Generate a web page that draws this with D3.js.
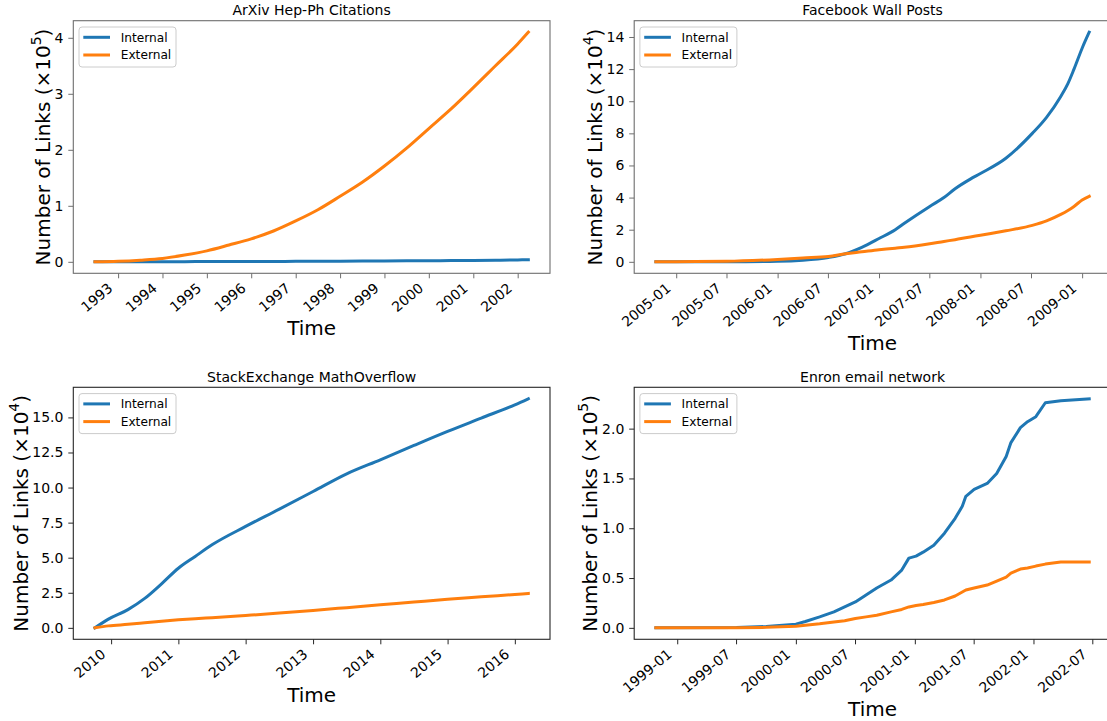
<!DOCTYPE html>
<html><head><meta charset="utf-8">
<script src="https://cdn.jsdelivr.net/npm/d3@7"></script>
<style>
body{margin:0;background:#fff;}
svg{display:block;font-family:"DejaVu Sans",sans-serif;}
</style>
</head><body>
<svg id="chart" width="1107" height="721"></svg>
<script>
// ---------------- DATA ----------------
const seriesNames = ["Internal", "External"];
const seriesColors = ["#1f77b4", "#ff7f0e"];
const xAxisLabel = "Time";
const yAxisLabel = "Number of Links (\u00d710";

// ArXiv Hep-Ph Citations (x 10^5)
const arxivTitle = "ArXiv Hep-Ph Citations";
const arxivExponent = "5";
const arxivTime = [1992.48, 1993.0, 1993.5, 1994.0, 1994.5, 1995.0, 1995.5, 1996.0, 1996.5, 1997.0, 1997.5,
                   1998.0, 1998.5, 1999.0, 1999.5, 2000.0, 2000.5, 2001.0, 2001.5, 2002.0, 2002.24];
const arxivInternal = [0, 0, 0.001, 0.002, 0.003, 0.004, 0.005, 0.006, 0.007, 0.008, 0.009,
                       0.011, 0.013, 0.015, 0.017, 0.019, 0.022, 0.025, 0.029, 0.034, 0.038];
const arxivExternal = [0, 0.01, 0.03, 0.06, 0.12, 0.196, 0.3, 0.41, 0.55, 0.73, 0.93,
                       1.17, 1.42, 1.71, 2.03, 2.38, 2.73, 3.11, 3.5, 3.89, 4.1];
const arxivXTicks = ["1993","1994","1995","1996","1997","1998","1999","2000","2001","2002"];
const arxivYTicks = [0, 1, 2, 3, 4];

// Facebook Wall Posts (x 10^4)
const fbTitle = "Facebook Wall Posts";
const fbExponent = "4";
const fbTime = [2004.80, 2005.0, 2005.5, 2006.0, 2006.25, 2006.5, 2006.67, 2006.83, 2007.0, 2007.16, 2007.25,
                2007.5, 2007.64, 2007.75, 2007.9, 2008.0, 2008.25, 2008.51, 2008.65, 2008.79, 2008.86,
                2008.92, 2009.0, 2009.07];
const fbInternal = [0, 0, 0, 0.03, 0.1, 0.27, 0.5, 0.9, 1.45, 2.0, 2.4,
                    3.45, 4.0, 4.55, 5.15, 5.5, 6.45, 8.0, 9.0, 10.3, 11.1,
                    12.0, 13.3, 14.3];
const fbExternal = [0, 0.01, 0.03, 0.15, 0.24, 0.33, 0.5, 0.62, 0.75, 0.85, 0.9,
                    1.12, 1.27, 1.38, 1.55, 1.65, 1.93, 2.27, 2.55, 2.95, 3.2,
                    3.45, 3.85, 4.08];
const fbXTicks = ["2005-01","2005-07","2006-01","2006-07","2007-01","2007-07","2008-01","2008-07","2009-01"];
const fbYTicks = [0, 2, 4, 6, 8, 10, 12, 14];

// StackExchange MathOverflow (x 10^4)
const moTitle = "StackExchange MathOverflow";
const moExponent = "4";
const moTime = [2009.76, 2009.96, 2010.25, 2010.5, 2010.75, 2011.0, 2011.25, 2011.5, 2012.0, 2012.5,
                2013.0, 2013.5, 2014.0, 2014.5, 2015.0, 2015.5, 2016.0, 2016.2];
const moInternal = [0, 0.62, 1.3, 2.1, 3.14, 4.25, 5.09, 5.92, 7.23, 8.46,
                    9.72, 10.98, 11.98, 13.0, 14.0, 14.95, 15.9, 16.33];
const moExternal = [0, 0.14, 0.25, 0.36, 0.47, 0.57, 0.65, 0.72, 0.88, 1.05,
                    1.24, 1.44, 1.64, 1.84, 2.04, 2.21, 2.38, 2.45];
const moXTicks = ["2010","2011","2012","2013","2014","2015","2016"];
const moYTicks = [0, 2.5, 5, 7.5, 10, 12.5, 15];

// Enron email network (x 10^5)
const enronTitle = "Enron email network";
const enronExponent = "5";
const enronTime = [1998.82, 1999.5, 1999.75, 2000.0, 2000.08, 2000.2, 2000.32, 2000.41, 2000.5, 2000.59,
                   2000.68, 2000.8, 2000.89, 2000.95, 2001.01, 2001.07, 2001.16, 2001.25, 2001.34, 2001.4,
                   2001.43, 2001.5, 2001.61, 2001.69, 2001.77, 2001.81, 2001.89, 2001.95, 2002.02, 2002.1,
                   2002.23, 2002.47];
const enronInternal = [0, 0.003, 0.013, 0.037, 0.064, 0.11, 0.16, 0.21, 0.26, 0.33,
                       0.40, 0.48, 0.58, 0.70, 0.72, 0.76, 0.83, 0.95, 1.10, 1.22,
                       1.32, 1.39, 1.45, 1.55, 1.72, 1.86, 2.01, 2.07, 2.12, 2.26,
                       2.28, 2.30];
const enronExternal = [0, 0.001, 0.005, 0.017, 0.026, 0.04, 0.058, 0.072, 0.094, 0.11,
                       0.127, 0.16, 0.185, 0.21, 0.224, 0.235, 0.255, 0.28, 0.32, 0.36,
                       0.38, 0.40, 0.43, 0.47, 0.51, 0.55, 0.59, 0.60, 0.62, 0.64,
                       0.66, 0.66];
const enronXTicks = ["1999-01","1999-07","2000-01","2000-07","2001-01","2001-07","2002-01","2002-07"];
const enronYTicks = [0, 0.5, 1.0, 1.5, 2.0];

// ---------------- CHART ----------------
function yearToDate(y) {
  const yr = Math.floor(y);
  const s = Date.UTC(yr, 0, 1), e = Date.UTC(yr + 1, 0, 1);
  return new Date(s + (y - yr) * (e - s));
}

const panels = [
  {title: arxivTitle, exp: arxivExponent, time: arxivTime, series: [arxivInternal, arxivExternal],
   xTicks: arxivXTicks, xParse: "%Y", yTicks: arxivYTicks, yFmt: "d", spine: "#6e6e6e", smooth: true},
  {title: fbTitle, exp: fbExponent, time: fbTime, series: [fbInternal, fbExternal],
   xTicks: fbXTicks, xParse: "%Y-%m", yTicks: fbYTicks, yFmt: "d", spine: "#6e6e6e", smooth: true},
  {title: moTitle, exp: moExponent, time: moTime, series: [moInternal, moExternal],
   xTicks: moXTicks, xParse: "%Y", yTicks: moYTicks, yFmt: ".1f", spine: "#262626", smooth: true},
  {title: enronTitle, exp: enronExponent, time: enronTime, series: [enronInternal, enronExternal],
   xTicks: enronXTicks, xParse: "%Y-%m", yTicks: enronYTicks, yFmt: ".1f", spine: "#262626", smooth: false}
];

const boxes = [
  {x: 73.3, y: 20.7, w: 476.7, h: 252.6},
  {x: 634.2, y: 20.7, w: 476.7, h: 252.6},
  {x: 73.3, y: 387.3, w: 476.7, h: 252},
  {x: 634.2, y: 387.3, w: 476.7, h: 252}
];

const svg = d3.select("#chart");
svg.append("rect").attr("width", 1107).attr("height", 721).attr("fill", "#fff");

panels.forEach((p, i) => {
  const b = boxes[i];
  const g = svg.append("g").attr("transform", `translate(${b.x},${b.y})`);
  const dates = p.time.map(yearToDate);
  const xExt = d3.extent(dates, d => +d);
  const xPad = (xExt[1] - xExt[0]) * 0.05;
  const x = d3.scaleUtc().domain([new Date(xExt[0] - xPad), new Date(xExt[1] + xPad)]).range([0, b.w]);
  const allY = p.series.flat();
  const yMin = d3.min(allY), yMax = d3.max(allY);
  const yPad = (yMax - yMin) * 0.05;
  const y = d3.scaleLinear().domain([yMin - yPad, yMax + yPad]).range([b.h, 0]);

  const clipId = "clip" + i;
  g.append("clipPath").attr("id", clipId).append("rect").attr("width", b.w).attr("height", b.h);

  // lines
  const line = d3.line().x((d, k) => x(dates[k])).y(d => y(d))
    .curve(p.smooth ? d3.curveMonotoneX : d3.curveLinear);
  p.series.forEach((s, k) => {
    g.append("path").datum(s).attr("d", line).attr("fill", "none")
      .attr("stroke", seriesColors[k]).attr("stroke-width", 3)
      .attr("stroke-linejoin", "round").attr("stroke-linecap", "square")
      .attr("clip-path", `url(#${clipId})`);
  });

  // x axis
  const parse = d3.utcParse(p.xParse);
  const tickDates = p.xTicks.map(parse);
  const xAxis = d3.axisBottom(x).tickValues(tickDates).tickSize(5).tickPadding(0)
    .tickFormat((d, k) => p.xTicks[k]);
  const xg = g.append("g").attr("transform", `translate(0,${b.h})`).call(xAxis);
  xg.select(".domain").remove();
  xg.selectAll(".tick line").attr("stroke", p.spine).attr("stroke-width", 1);
  xg.selectAll(".tick text")
    .attr("font-family", "DejaVu Sans").attr("font-size", 14).attr("fill", "#000")
    .attr("text-anchor", "end").attr("dy", null).attr("y", null)
    .attr("transform", "translate(-5,16.5) rotate(-40)");

  // y axis
  const yAxis = d3.axisLeft(y).tickValues(p.yTicks).tickSize(5).tickPadding(4.9)
    .tickFormat(d3.format(p.yFmt));
  const yg = g.append("g").call(yAxis);
  yg.select(".domain").remove();
  yg.selectAll(".tick line").attr("stroke", p.spine).attr("stroke-width", 1);
  yg.selectAll(".tick text").attr("font-family", "DejaVu Sans").attr("font-size", 14).attr("fill", "#000");

  // spines
  g.append("rect").attr("width", b.w).attr("height", b.h).attr("fill", "none")
    .attr("stroke", p.spine).attr("stroke-width", 1.1);

  // title
  g.append("text").attr("x", b.w / 2).attr("y", -5.7).attr("text-anchor", "middle")
    .attr("font-size", 14).attr("fill", "#000").text(p.title);

  // x label
  const xbb = xg.node().getBBox();
  g.append("text").attr("x", b.w / 2).attr("y", b.h + xbb.y + xbb.height + 20.5)
    .attr("text-anchor", "middle").attr("font-size", 20).attr("fill", "#000").text(xAxisLabel);

  // y label
  const ybb = yg.node().getBBox();
  const yl = g.append("text")
    .attr("transform", `translate(${ybb.x - 4.7},${b.h / 2}) rotate(-90)`)
    .attr("text-anchor", "middle").attr("font-size", 20).attr("fill", "#000");
  yl.append("tspan").text(yAxisLabel);
  yl.append("tspan").attr("dy", -9).attr("font-size", 14).text(p.exp);
  yl.append("tspan").attr("dy", 9).text(")");

  // legend
  const lg = g.append("g").attr("transform", "translate(5.7,6.3)");
  lg.append("rect").attr("width", 97).attr("height", 40).attr("rx", 3)
    .attr("fill", "#fff").attr("fill-opacity", 0.8).attr("stroke", "#cccccc").attr("stroke-width", 1);
  seriesNames.forEach((n, k) => {
    const yy = 10.3 + k * 17.7;
    lg.append("line").attr("x1", 4.3).attr("x2", 31).attr("y1", yy).attr("y2", yy)
      .attr("stroke", seriesColors[k]).attr("stroke-width", 3);
    lg.append("text").attr("x", 41.7).attr("y", yy + 4.3).attr("font-size", 12.2)
      .attr("fill", "#000").text(n);
  });
});
</script>
</body></html>
